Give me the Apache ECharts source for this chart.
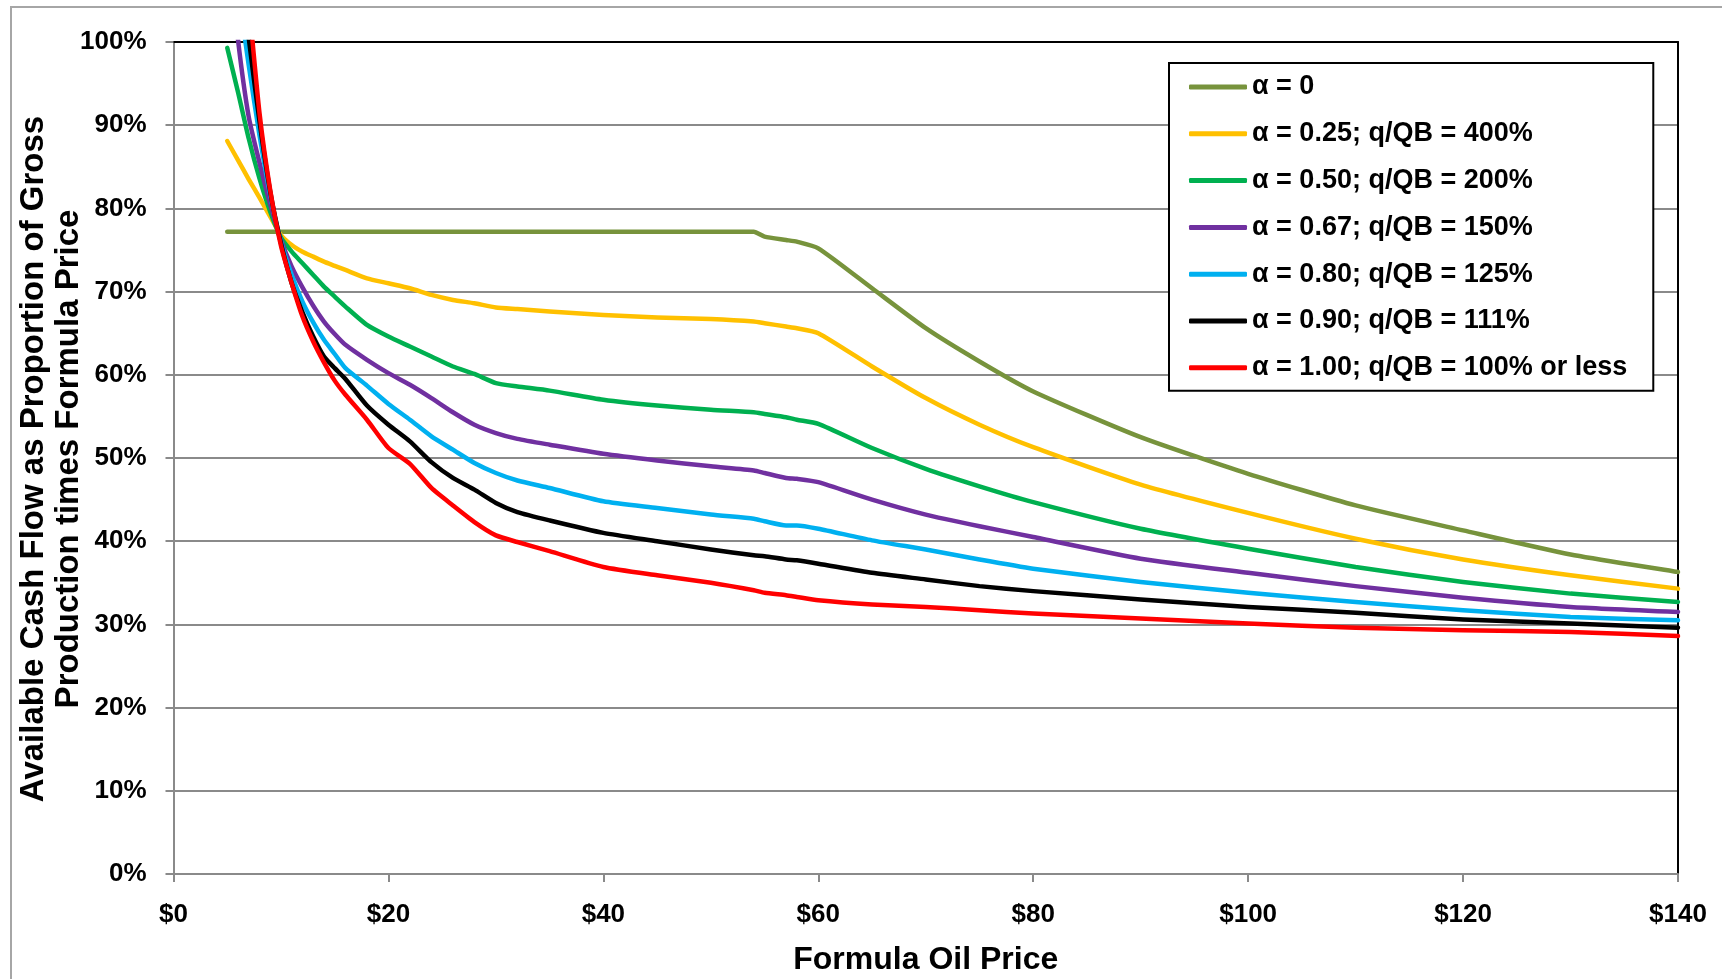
<!DOCTYPE html>
<html>
<head>
<meta charset="utf-8">
<script src="https://cdn.jsdelivr.net/npm/echarts@6/dist/echarts.min.js"></script>
<style>
  html, body { margin: 0; padding: 0; background: #fff; }
  #chart { width: 1722px; height: 979px; }
</style>
</head>
<body>
<div id="chart"></div>
<script>
// Formula oil price ($/bbl) at which each curve is sampled
const prices = [5, 6, 7, 8, 9, 10, 11, 12, 13, 14, 15, 16, 18, 20, 22, 24, 26, 28, 30, 32,
                35, 40, 45, 50, 54, 55, 57, 58, 60, 65, 70, 75, 80, 90, 100, 110, 120, 130, 140];

// Available cash flow as % of gross production x formula price
const alpha0 = [77.2, 77.2, 77.2, 77.2, 77.2, 77.2, 77.2, 77.2, 77.2, 77.2, 77.2, 77.2, 77.2, 77.2, 77.2, 77.2, 77.2, 77.2, 77.2, 77.2,
                77.2, 77.2, 77.2, 77.2, 77.2, 76.6, 76.2, 76.0, 75.2, 70.4, 65.6, 61.6, 58.0, 52.5, 48.1, 44.3, 41.3, 38.4, 36.3];
const alpha025 = [88.1, 85.8, 83.5, 81.3, 79.0, 76.8, 75.6, 74.8, 74.2, 73.6, 73.1, 72.6, 71.6, 71.0, 70.4, 69.6, 69.0, 68.6, 68.1, 67.9,
                  67.6, 67.2, 66.9, 66.7, 66.4, 66.2, 65.8, 65.6, 65.0, 61.0, 57.2, 54.0, 51.3, 46.8, 43.4, 40.3, 37.8, 35.9, 34.3];
const alpha050 = [99.3, 94.0, 88.4, 83.6, 79.6, 76.5, 74.8, 73.4, 72.0, 70.6, 69.4, 68.2, 66.0, 64.6, 63.4, 62.2, 61.0, 60.1, 59.0, 58.6,
                  58.1, 57.0, 56.3, 55.8, 55.5, 55.3, 54.9, 54.6, 54.1, 51.2, 48.7, 46.6, 44.7, 41.5, 39.1, 36.9, 35.1, 33.7, 32.7];
const alpha067 = [113, 100.3, 91.0, 85.5, 80.5, 76.2, 73.0, 70.5, 68.3, 66.4, 64.9, 63.6, 61.8, 60.2, 58.8, 57.2, 55.5, 54.0, 53.0, 52.3,
                  51.6, 50.5, 49.7, 49.0, 48.5, 48.2, 47.6, 47.5, 47.1, 45.0, 43.2, 41.8, 40.5, 37.9, 36.2, 34.6, 33.2, 32.1, 31.5];
const alpha080 = [122, 107, 97.2, 88.8, 81.6, 76.0, 72.0, 68.8, 66.3, 64.2, 62.5, 60.8, 58.7, 56.5, 54.6, 52.6, 51.0, 49.4, 48.2, 47.3,
                  46.4, 44.8, 44.0, 43.2, 42.7, 42.4, 41.9, 41.9, 41.5, 40.1, 39.0, 37.8, 36.7, 35.1, 33.8, 32.7, 31.7, 30.9, 30.5];
const alpha090 = [130, 113, 100.5, 90.5, 82.0, 75.8, 71.0, 67.5, 64.6, 62.2, 60.8, 59.5, 56.3, 54.0, 52.0, 49.5, 47.6, 46.2, 44.6, 43.5,
                  42.5, 41.0, 40.0, 39.0, 38.3, 38.2, 37.8, 37.7, 37.3, 36.2, 35.4, 34.6, 34.0, 33.0, 32.1, 31.4, 30.6, 30.1, 29.6];
const alpha100 = [140, 119, 105, 91.5, 82.2, 75.5, 71.0, 67.0, 64.0, 61.5, 59.3, 57.6, 54.6, 51.2, 49.3, 46.4, 44.3, 42.3, 40.7, 39.9,
                  38.8, 36.9, 35.9, 35.0, 34.1, 33.8, 33.5, 33.3, 32.9, 32.4, 32.1, 31.7, 31.3, 30.7, 30.1, 29.6, 29.3, 29.1, 28.6];

const seriesNames = [
  'α = 0',
  'α = 0.25; q/QB = 400%',
  'α = 0.50; q/QB = 200%',
  'α = 0.67; q/QB = 150%',
  'α = 0.80; q/QB = 125%',
  'α = 0.90; q/QB = 111%',
  'α = 1.00; q/QB = 100% or less'
];
const seriesValues = [alpha0, alpha025, alpha050, alpha067, alpha080, alpha090, alpha100];
const seriesColors = ['#77933C', '#FFC000', '#00B050', '#7030A0', '#00B0F0', '#000000', '#FF0000'];

const yTitle = 'Available Cash Flow as Proportion of Gross\nProduction times Formula Price';
const xTitle = 'Formula Oil Price';

const FONT = '"Liberation Sans", Arial, sans-serif';
const GRID_GRAY = '#8a8a8a';

const chart = echarts.init(document.getElementById('chart'), null, { renderer: 'canvas' });

const series = seriesNames.map((name, i) => ({
  name: name,
  type: 'line',
  data: prices.map((p, k) => [p, seriesValues[i][k]]),
  symbol: 'none',
  smooth: 0.2,
  clip: true,
  lineStyle: { color: seriesColors[i], width: 4.5, cap: 'round', join: 'round' },
  itemStyle: { color: seriesColors[i] },
  emphasis: { disabled: true }
}));

chart.setOption({
  backgroundColor: '#ffffff',
  animation: false,
  textStyle: { fontFamily: FONT },
  graphic: [{
    // chart-area frame
    type: 'rect',
    shape: { x: 11, y: 7, width: 1800, height: 1100 },
    style: { fill: 'none', stroke: '#a6a6a6', lineWidth: 2 },
    silent: true,
    z: -10
  }, {
    // vertical axis title, two lines reading bottom-to-top
    type: 'text',
    x: 51, y: 459,
    rotation: Math.PI / 2,
    silent: true,
    style: {
      text: yTitle,
      fontFamily: FONT, fontWeight: 'bold', fontSize: 33,
      lineHeight: 35,
      fill: '#000',
      align: 'center', verticalAlign: 'middle'
    }
  }],
  grid: {
    left: 173.5, right: 44, top: 42, bottom: 105,
    show: false,
    containLabel: false,
    outerBoundsMode: 'none'
  },
  legend: {
    orient: 'vertical',
    left: 1169, top: 63,
    padding: [9, 26, 8, 20],
    itemWidth: 58, itemHeight: 5,
    itemGap: 16.8,
    itemTextGap: 4,
    icon: 'roundRect',
    backgroundColor: '#ffffff',
    borderColor: '#000000',
    borderWidth: 2,
    selectedMode: false,
    textStyle: { fontFamily: FONT, fontWeight: 'bold', fontSize: 27, color: '#000', lineHeight: 30 },
    data: seriesNames
  },
  xAxis: [{
    type: 'value',
    min: 0, max: 140, interval: 20,
    name: xTitle,
    nameLocation: 'middle',
    nameGap: 70,
    nameTextStyle: { fontFamily: FONT, fontWeight: 'bold', fontSize: 32, color: '#000' },
    axisLine: { show: true, onZero: false, lineStyle: { color: GRID_GRAY, width: 2 } },
    axisTick: { show: true, length: 8, lineStyle: { color: GRID_GRAY, width: 2 } },
    axisLabel: {
      margin: 28,
      fontFamily: FONT, fontWeight: 'bold', fontSize: 26, color: '#000',
      formatter: v => '$' + v
    },
    splitLine: { show: false }
  }, {
    type: 'value', position: 'top',
    min: 0, max: 140, interval: 20,
    axisLine: { show: true, onZero: false, lineStyle: { color: '#000', width: 2 } },
    axisTick: { show: false }, axisLabel: { show: false }, splitLine: { show: false }
  }],
  yAxis: [{
    type: 'value',
    min: 0, max: 100, interval: 10,
    axisLine: { show: true, onZero: false, lineStyle: { color: GRID_GRAY, width: 2 } },
    axisTick: { show: true, length: 8, lineStyle: { color: GRID_GRAY, width: 2 } },
    axisLabel: {
      margin: 27,
      fontFamily: FONT, fontWeight: 'bold', fontSize: 26, color: '#000',
      formatter: v => v + '%'
    },
    splitLine: { show: true, lineStyle: { color: GRID_GRAY, width: 2 } }
  }, {
    type: 'value', position: 'right',
    min: 0, max: 100, interval: 10,
    axisLine: { show: true, onZero: false, lineStyle: { color: '#000', width: 2 } },
    axisTick: { show: false }, axisLabel: { show: false }, splitLine: { show: false }
  }],
  series: series
});
</script>
</body>
</html>
